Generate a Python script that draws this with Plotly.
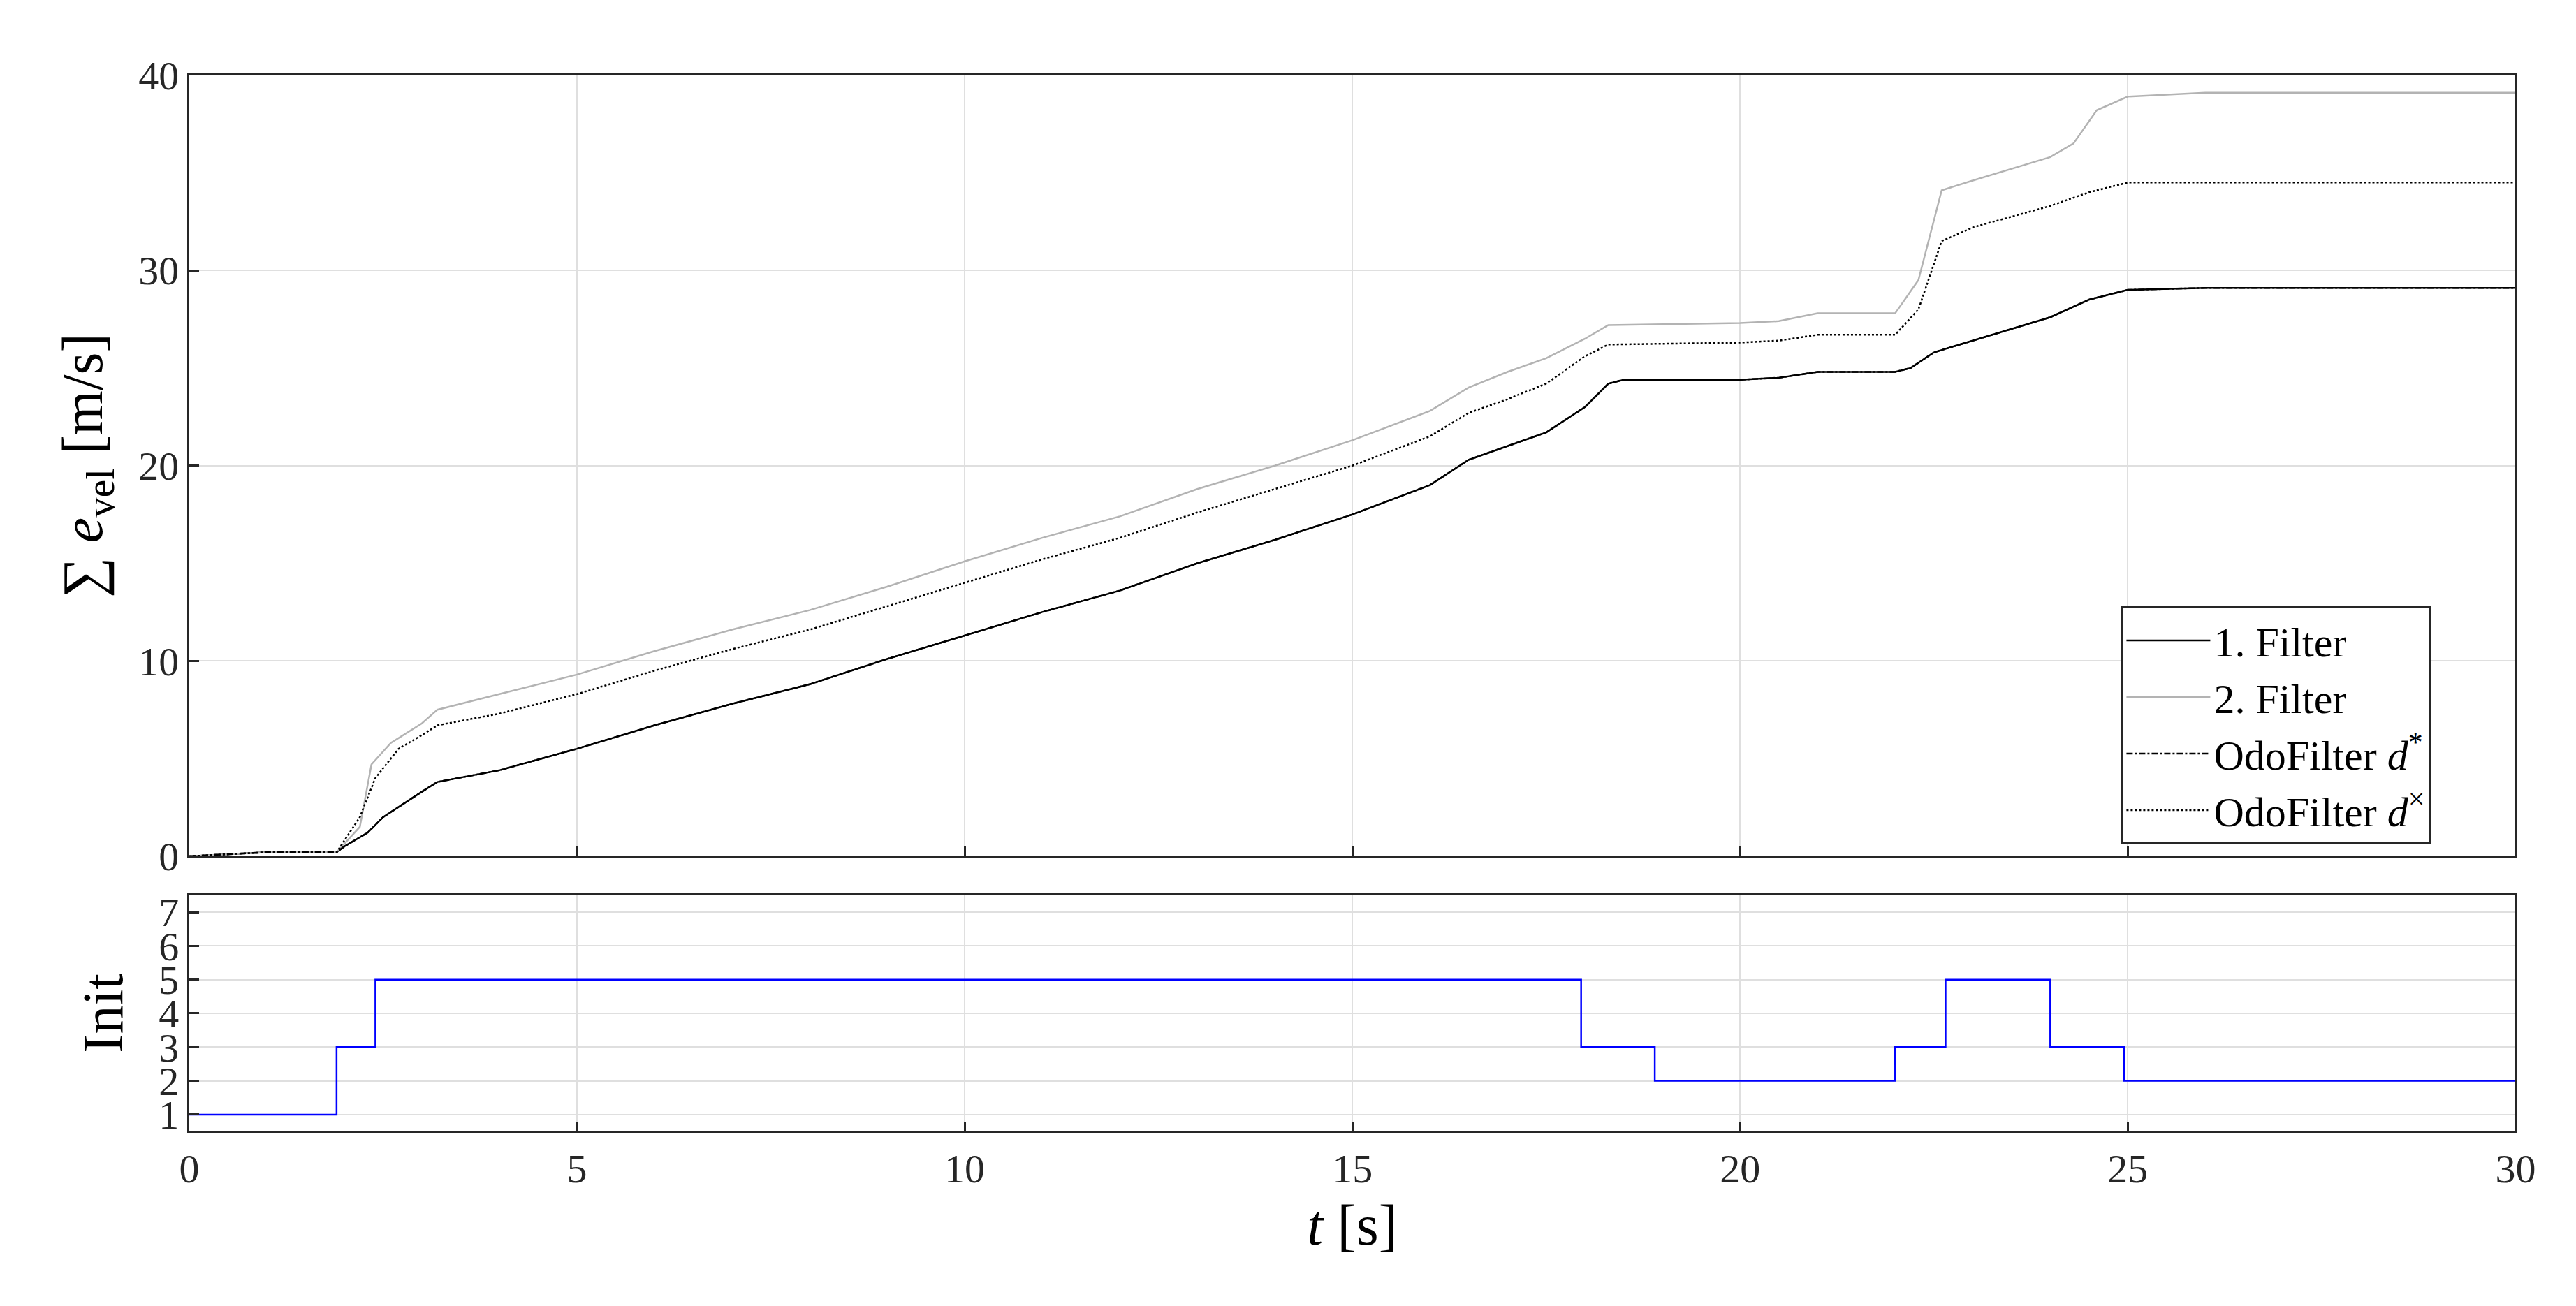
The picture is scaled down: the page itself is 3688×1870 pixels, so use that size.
import plotly.graph_objects as go
from plotly.subplots import make_subplots

# 1. Filter
t1 = [0, 0.5, 1, 1.9, 2.0, 2.3, 2.5, 3, 3.2, 4, 5, 6, 7, 8, 9, 10, 11, 12, 13, 14, 15, 16, 16.5,
      17, 17.5, 18, 18.3, 18.5, 20, 20.5, 21, 22, 22.2, 22.5, 23, 24, 24.5, 25, 26, 30]
e1 = [0, 0.1, 0.2, 0.2, 0.5, 1.2, 2.0, 3.3, 3.8, 4.4, 5.5, 6.7, 7.8, 8.8, 10.1, 11.3, 12.5, 13.6,
      15.0, 16.2, 17.5, 19.0, 20.3, 21.0, 21.7, 23.0, 24.2, 24.4, 24.4, 24.5, 24.8, 24.8, 25.0,
      25.8, 26.4, 27.6, 28.5, 29.0, 29.1, 29.1]

# 2. Filter
t2 = [0, 1, 1.9, 2.2, 2.35, 2.6, 3, 3.2, 4, 5, 6, 7, 8, 9, 10, 11, 12, 13, 14, 15, 16, 16.5, 17,
      17.5, 18, 18.3, 20, 20.5, 21, 22, 22.3, 22.6, 23, 24, 24.3, 24.6, 25, 26, 30]
e2 = [0, 0.2, 0.2, 1.5, 4.7, 5.8, 6.8, 7.5, 8.3, 9.3, 10.5, 11.6, 12.6, 13.8, 15.1, 16.3, 17.4,
      18.8, 20.0, 21.3, 22.8, 24.0, 24.8, 25.5, 26.5, 27.2, 27.3, 27.4, 27.8, 27.8, 29.5, 34.1,
      34.6, 35.8, 36.5, 38.2, 38.9, 39.1, 39.1]

# OdoFilter d^x
t3 = [0, 1, 1.9, 2.2, 2.4, 2.7, 3, 3.2, 4, 5, 6, 7, 8, 9, 10, 11, 12, 13, 14, 15, 16, 16.5, 17,
      17.5, 18, 18.3, 20, 20.5, 21, 22, 22.3, 22.6, 23, 24, 24.5, 25, 30]
e3 = [0, 0.2, 0.2, 2.0, 4.0, 5.5, 6.2, 6.7, 7.3, 8.3, 9.5, 10.6, 11.6, 12.8, 14.0, 15.2, 16.3,
      17.6, 18.8, 20.0, 21.5, 22.7, 23.4, 24.2, 25.6, 26.2, 26.3, 26.4, 26.7, 26.7, 28.0, 31.5,
      32.2, 33.3, 34.0, 34.5, 34.5]

# Init state (step)
t_init = [0, 1.9, 2.4, 17.95, 18.9, 22.0, 22.65, 24.0, 24.95, 30]
init = [1, 3, 5, 3, 2, 3, 5, 3, 2, 2]

FONT = "Liberation Serif"

fig = make_subplots(rows=2, cols=1, shared_xaxes=False)
fig.add_trace(go.Scatter(x=t1, y=e1, mode="lines", name="1. Filter",
                         line=dict(color="black", width=2.5)), row=1, col=1)
fig.add_trace(go.Scatter(x=t2, y=e2, mode="lines", name="2. Filter",
                         line=dict(color="#b3b3b3", width=2.5)), row=1, col=1)
fig.add_trace(go.Scatter(x=t1, y=e1, mode="lines", name="OdoFilter <i>d</i><sup>*</sup>",
                         line=dict(color="black", width=2.5, dash="dashdot")), row=1, col=1)
fig.add_trace(go.Scatter(x=t3, y=e3, mode="lines", name="OdoFilter <i>d</i><sup>×</sup>",
                         line=dict(color="black", width=2.5, dash="dot")), row=1, col=1)
fig.add_trace(go.Scatter(x=t_init, y=init, mode="lines", line_shape="hv", showlegend=False,
                         line=dict(color="blue", width=2.5)), row=2, col=1)

ax = dict(showline=True, mirror=True, linecolor="#262626", linewidth=3, ticks="inside",
          ticklen=14, tickwidth=3, tickcolor="#262626", showgrid=True, gridcolor="#dfdfdf",
          gridwidth=2, zeroline=False, tickfont=dict(size=58, color="#262626", family=FONT))

fig.update_layout(
    width=3688, height=1870, margin=dict(l=0, r=0, t=0, b=0),
    plot_bgcolor="white", paper_bgcolor="white", font=dict(family=FONT, color="black"),
    xaxis=dict(ax, domain=[0.0683, 0.982], range=[0, 30], dtick=5, showticklabels=False),
    xaxis2=dict(ax, domain=[0.0683, 0.982], range=[0, 30], dtick=5,
                title=dict(text="<i>t</i> [s]", font=dict(size=82), standoff=20)),
    yaxis=dict(ax, domain=[0.343, 0.9626], range=[0, 40], dtick=10,
               title=dict(text="∑ <i>e</i><sub>vel</sub> [m/s]", font=dict(size=82), standoff=25)),
    yaxis2=dict(ax, domain=[0.1246, 0.312], range=[0.5, 7.5], dtick=1,
                title=dict(text="Init", font=dict(size=82), standoff=25)),
    legend=dict(x=0.827, y=0.541, xanchor="left", yanchor="top", bgcolor="white",
                bordercolor="#262626", borderwidth=3, font=dict(size=60, family=FONT),
                tracegroupgap=0, itemwidth=120),
)

fig.write_html("out.html")
